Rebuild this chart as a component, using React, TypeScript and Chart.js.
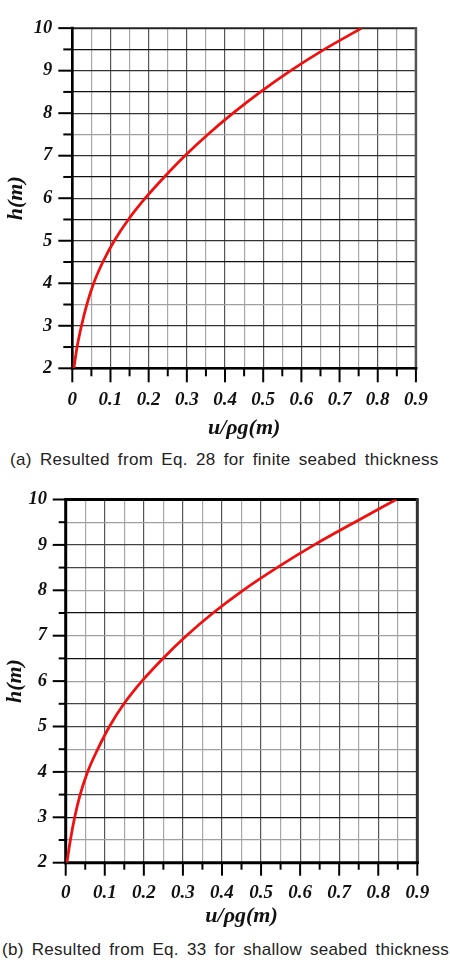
import React, { useEffect, useRef } from 'react';
import { Chart, registerables } from 'chart.js';

Chart.register(...registerables);

// ---- data ----
const depthH = [2, 2.5, 3, 3.5, 4, 4.5, 5, 5.5, 6, 6.5, 7, 7.5, 8, 8.5, 9, 9.5, 10];
const pressureFinite = [0.004, 0.0125, 0.024, 0.038, 0.056, 0.08, 0.11, 0.147, 0.191, 0.241, 0.295, 0.355, 0.421, 0.493, 0.572, 0.66, 0.758];
const pressureShallow = [0.003, 0.012, 0.023, 0.037, 0.056, 0.082, 0.112, 0.149, 0.195, 0.249, 0.309, 0.377, 0.454, 0.541, 0.636, 0.74, 0.846];
const xTickLabels = ['0', '0.1', '0.2', '0.3', '0.4', '0.5', '0.6', '0.7', '0.8', '0.9'];
const yTickLabels = ['2', '3', '4', '5', '6', '7', '8', '9', '10'];
const xTitle = 'u/ρg(m)';
const yTitle = 'h(m)';
const captionA = '(a) Resulted from Eq. 28 for finite seabed thickness';
const captionB = '(b) Resulted from Eq. 33 for shallow seabed thickness';
const lightRowsA = [3.5, 7.5];
const blackRowsA: number[] = [2.5, 4.5, 5.5, 6.5, 8.5, 9.5];
const lightRowsB = [2.5, 4.5, 6, 7, 8, 9.5];
const blackRowsB = [3, 6.5, 7.5];

const serif = '"Liberation Serif", "Times New Roman", serif';

const near = (a: number, b: number) => Math.abs(a - b) < 1e-6;
const inList = (v: number, list: number[]) => list.some((x) => near(x, v));

const framePlugin = {
  id: 'frame',
  beforeDatasetsDraw(chart: any, _args: any, opts: any) {
    const { ctx, chartArea } = chart;
    const { left, right, top, bottom } = chartArea;
    const xs = chart.scales.x;
    const ys = chart.scales.y;
    ctx.save();
    ctx.lineCap = 'butt';
    ctx.strokeStyle = '#000';
    ctx.lineWidth = opts.tickWidth;
    ys.ticks.forEach((t: any) => {
      const py = ys.getPixelForValue(t.value);
      const len = near(t.value, Math.round(t.value)) ? opts.yMajor : opts.yMinor;
      ctx.beginPath();
      ctx.moveTo(left - len, py);
      ctx.lineTo(left, py);
      ctx.stroke();
    });
    xs.ticks.forEach((t: any) => {
      const px = xs.getPixelForValue(t.value);
      const len = Math.round(t.value * 20) % 2 === 0 ? opts.xMajor : opts.xMinor;
      ctx.beginPath();
      ctx.moveTo(px, bottom);
      ctx.lineTo(px, bottom + len);
      ctx.stroke();
    });
    const b = opts.borders;
    const side = (s: any, x1: number, y1: number, x2: number, y2: number) => {
      ctx.strokeStyle = s.c;
      ctx.lineWidth = s.w;
      ctx.beginPath();
      ctx.moveTo(x1, y1);
      ctx.lineTo(x2, y2);
      ctx.stroke();
    };
    side(b.top, left - 1, top, right + 1, top);
    side(b.right, right, top - 1, right, bottom + 1);
    side(b.left, left, top - 1.5, left, bottom + 1.5);
    side(b.bottom, left - 1.5, bottom, right + 1.5, bottom);
    ctx.restore();
  },
};

function makeConfig(values: number[], spec: any) {
  return {
    type: 'line',
    data: {
      datasets: [
        {
          data: depthH.map((h, i) => ({ x: values[i], y: h })),
          borderColor: '#f01010',
          borderWidth: 2.8,
          pointRadius: 0,
          cubicInterpolationMode: 'monotone',
          fill: false,
        },
      ],
    },
    options: {
      animation: false,
      responsive: false,
      layout: { padding: { left: 0, top: spec.top, right: spec.right, bottom: spec.bottom } },
      plugins: {
        legend: { display: false },
        tooltip: { enabled: false },
        frame: spec.frame,
      },
      scales: {
        x: {
          type: 'linear',
          min: 0,
          max: 0.9,
          afterFit: (s: any) => {
            s.height = spec.xHeight;
          },
          border: { display: false },
          grid: {
            drawTicks: false,
            lineWidth: 1.2,
            color: (c: any) => (Math.round(c.tick.value * 20) % 2 === 0 ? '#555' : '#a8a8a8'),
          },
          ticks: {
            stepSize: 0.05,
            autoSkip: false,
            maxRotation: 0,
            minRotation: 0,
            padding: spec.xPad,
            color: '#111',
            font: { family: serif, size: 19, weight: 'bold', style: 'italic', lineHeight: 1 },
            callback: (v: number) => {
              const i = Math.round(v * 20);
              return i % 2 === 0 ? xTickLabels[i / 2] : '';
            },
          },
          title: {
            display: true,
            text: xTitle,
            color: '#111',
            padding: { top: 0, bottom: 0 },
            font: { family: serif, size: 22, weight: 'bold', style: 'italic', lineHeight: 1.2 },
          },
        },
        y: {
          type: 'linear',
          min: 2,
          max: 10,
          afterFit: (s: any) => {
            s.width = spec.yWidth;
          },
          border: { display: false },
          grid: {
            drawTicks: false,
            lineWidth: 1.2,
            color: (c: any) => {
              const v = c.tick.value;
              if (inList(v, spec.blackRows)) return '#111';
              if (inList(v, spec.lightRows)) return '#a0a0a0';
              return spec.rowColor;
            },
          },
          ticks: {
            stepSize: 0.5,
            autoSkip: false,
            padding: spec.yPad,
            color: '#111',
            font: { family: serif, size: 18.5, weight: 'bold', style: 'italic', lineHeight: 0.88 },
            callback: (v: number) => (near(v, Math.round(v)) ? yTickLabels[Math.round(v) - 2] : ''),
          },
          title: {
            display: true,
            text: yTitle,
            color: '#111',
            padding: { top: spec.yTitlePad, bottom: 0 },
            font: { family: serif, size: 22, weight: 'bold', style: 'italic', lineHeight: 1.2 },
          },
        },
      },
    },
    plugins: [framePlugin],
  };
}

const specA = {
  top: 8.3,
  right: 18,
  bottom: 3.8,
  yWidth: 72.3,
  xHeight: 72.9,
  yPad: 20,
  xPad: 22.2,
  yTitlePad: 3.3,
  rowColor: '#333',
  lightRows: lightRowsA,
  blackRows: blackRowsA,
  frame: {
    tickWidth: 2,
    yMajor: 14,
    yMinor: 9,
    xMajor: 14,
    xMinor: 8,
    borders: {
      top: { w: 1.6, c: '#222' },
      right: { w: 2.5, c: '#555' },
      left: { w: 2.6, c: '#000' },
      bottom: { w: 2.6, c: '#000' },
    },
  },
};

const specB = {
  top: 29.5,
  right: 20,
  bottom: 0.5,
  yWidth: 65.7,
  xHeight: 66.8,
  yPad: 18.7,
  xPad: 20.8,
  yTitlePad: 2.5,
  rowColor: '#444',
  lightRows: lightRowsB,
  blackRows: blackRowsB,
  frame: {
    tickWidth: 2,
    yMajor: 13,
    yMinor: 7,
    xMajor: 13,
    xMinor: 7,
    borders: {
      top: { w: 3, c: '#000' },
      right: { w: 3, c: '#333' },
      left: { w: 3, c: '#000' },
      bottom: { w: 3, c: '#000' },
    },
  },
};

function Plot({ values, spec, top, height }: { values: number[]; spec: any; top: number; height: number }) {
  const ref = useRef<HTMLCanvasElement | null>(null);
  useEffect(() => {
    if (!ref.current) return;
    const chart = new Chart(ref.current, makeConfig(values, spec) as any);
    return () => chart.destroy();
  }, [values, spec]);
  return (
    <canvas
      ref={ref}
      width={450}
      height={height}
      style={{ position: 'absolute', left: 0, top, width: 450, height }}
    />
  );
}

const captionStyle: React.CSSProperties = {
  position: 'absolute',
  whiteSpace: 'nowrap',
  fontFamily: '"Liberation Sans", Arial, sans-serif',
  fontSize: 17,
  lineHeight: '20px',
  wordSpacing: '3px',
  color: '#222',
};

export default function App() {
  return (
    <div style={{ position: 'absolute', left: 0, top: 0, width: 450, height: 963, background: '#fff', overflow: 'hidden' }}>
      <Plot values={pressureFinite} spec={specA} top={0} height={445} />
      <div style={{ ...captionStyle, left: 10, top: 450, letterSpacing: '0.35px' }}>{captionA}</div>
      <Plot values={pressureShallow} spec={specB} top={470} height={460} />
      <div style={{ ...captionStyle, left: 2, top: 940, letterSpacing: '0.3px', wordSpacing: '3px' }}>{captionB}</div>
    </div>
  );
}
